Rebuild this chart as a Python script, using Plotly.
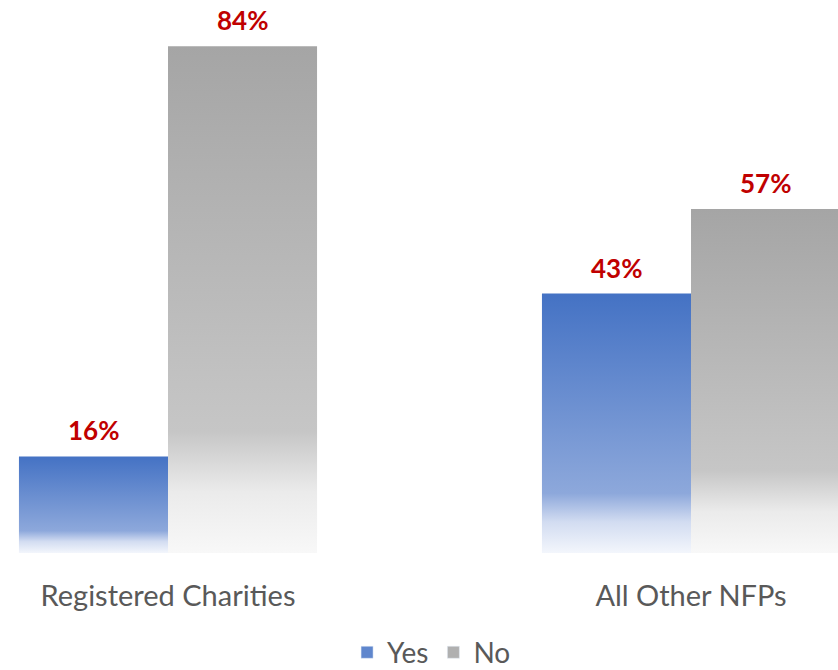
import plotly.graph_objects as go

# Share of organisations answering Yes / No, by organisation type
categories = ["Registered Charities", "All Other NFPs"]
series_names = ["Yes", "No"]
yes_values = [16, 43]
no_values = [84, 57]

BAR_W = 0.285
LABEL_FONT = "Lato, Carlito, Calibri, sans-serif"

gradients = {
    "Yes": [[0.0, "#F3F6FC"], [0.12, "#D2DCF1"], [0.23, "#8DA8DB"], [1.0, "#4472C4"]],
    "No": [[0.0, "#F8F8F8"], [0.12, "#EBEBEB"], [0.24, "#C6C6C6"], [1.0, "#A5A5A5"]],
}
legend_colors = {"Yes": "#5F86CD", "No": "#B0B0B0"}

fig = go.Figure()

for s_idx, (name, values) in enumerate(zip(series_names, [yes_values, no_values])):
    for c_idx, val in enumerate(values):
        x0 = c_idx + (s_idx - 1) * BAR_W
        x1 = x0 + BAR_W
        fig.add_trace(go.Scatter(
            x=[x0, x1, x1, x0, x0],
            y=[0, 0, val, val, 0],
            mode="none",
            fill="toself",
            fillgradient=dict(type="vertical", colorscale=gradients[name], start=0, stop=val),
            name=name,
            legendgroup=name,
            showlegend=False,
            hoverinfo="skip",
        ))
        fig.add_annotation(
            x=(x0 + x1) / 2, y=val, text=f"<b>{val}%</b>",
            showarrow=False, yanchor="bottom", yshift=8,
            font=dict(family=LABEL_FONT, size=26, color="#C00000"),
        )
    # square legend key for the series
    fig.add_trace(go.Bar(
        x=[None], y=[None], name=name, legendgroup=name,
        marker=dict(color=legend_colors[name]), showlegend=True, hoverinfo="skip",
    ))

fig.update_layout(
    width=838, height=670,
    margin=dict(l=0, r=0, t=10, b=117),
    paper_bgcolor="white", plot_bgcolor="white",
    font=dict(family=LABEL_FONT, color="#595959"),
    xaxis=dict(
        range=[-168 / 523, -168 / 523 + 838 / 523],
        tickvals=[0, 1], ticktext=categories,
        tickfont=dict(size=29, color="#595959"),
        showgrid=False, zeroline=False, showline=False, ticks="",
        ticklabelstandoff=23,
    ),
    yaxis=dict(range=[0, 90], visible=False),
    legend=dict(
        orientation="h", x=0.515, xanchor="center",
        yref="container", y=0.026, yanchor="middle",
        font=dict(size=28, color="#595959"),
        itemwidth=30,
    ),
    showlegend=True,
)

fig.write_html("out.html")
